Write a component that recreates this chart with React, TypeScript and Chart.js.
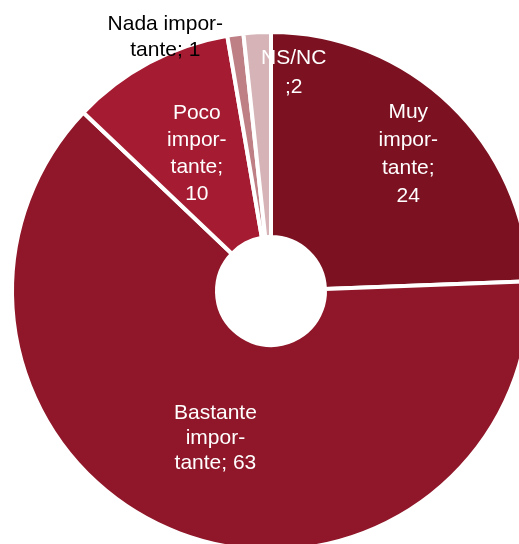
import React, { useEffect, useRef } from "react";
import { Chart, registerables } from "chart.js";

Chart.register(...registerables);

const categories = ["Muy importante", "Bastante importante", "Poco importante", "Nada importante", "NS/NC"];
const values = [24.4, 62.7, 10.2, 1.0, 1.7];
const colors = ["#7C1121", "#8F1729", "#A51B32", "#BE7F85", "#D5B3B6"];
// how each label is broken into lines; {v} is replaced by the rounded value
const labelLines = [
  ["Muy", "impor-", "tante;", "{v}"],
  ["Bastante", "impor-", "tante; {v}"],
  ["Poco", "impor-", "tante;", "{v}"],
  ["Nada impor-", "tante; {v}"],
  ["NS/NC", ";{v}"],
];
const labelColors = ["#ffffff", "#ffffff", "#ffffff", "#000000", "#ffffff"];
// placement relative to each arc: fraction of outer radius along mid angle + pixel nudge
const labelRadius = [0.75, 0.607, 0.6, 1.0, 0.85];
const labelNudgeX = [2.5, 0, -1, -70, 34.5];
const labelNudgeY = [3, 0, 0, 3, 1.5];
const labelLineHeight = [27.9, 25.3, 27, 25.6, 29];

const labelPlugin = {
  id: "sliceLabels",
  afterDatasetsDraw(chart: any) {
    const meta = chart.getDatasetMeta(0);
    const ctx = chart.ctx;
    ctx.save();
    ctx.font = '21px "Liberation Sans", Arial, sans-serif';
    ctx.textAlign = "center";
    ctx.textBaseline = "middle";
    meta.data.forEach((arc: any, i: number) => {
      const p = arc.getProps(["x", "y", "startAngle", "endAngle", "outerRadius"], true);
      const mid = (p.startAngle + p.endAngle) / 2;
      const r = p.outerRadius * labelRadius[i];
      const cx = p.x + Math.cos(mid) * r + labelNudgeX[i];
      const cy = p.y + Math.sin(mid) * r + labelNudgeY[i];
      const lines = labelLines[i].map((s) => s.replace("{v}", String(Math.round(values[i]))));
      const lh = labelLineHeight[i];
      ctx.fillStyle = labelColors[i];
      lines.forEach((line, j) => {
        ctx.fillText(line, cx, cy + (j - (lines.length - 1) / 2) * lh);
      });
    });
    ctx.restore();
  },
};

export default function App() {
  const canvasRef = useRef<HTMLCanvasElement | null>(null);

  useEffect(() => {
    if (!canvasRef.current) return;
    const chart = new Chart(canvasRef.current, {
      type: "doughnut",
      data: {
        labels: categories,
        datasets: [
          {
            data: values,
            backgroundColor: colors,
            borderColor: "#ffffff",
            borderWidth: 4,
          },
        ],
      },
      options: {
        animation: false,
        responsive: true,
        maintainAspectRatio: false,
        radius: 259,
        cutout: "20.85%",
        layout: { padding: 0 },
        plugins: {
          legend: { display: false },
          tooltip: { enabled: false },
        },
      },
      plugins: [labelPlugin],
    });
    return () => chart.destroy();
  }, []);

  return (
    <div
      style={{
        position: "fixed",
        left: 0,
        top: 0,
        width: 519,
        height: 544,
        overflow: "hidden",
        background: "#ffffff",
      }}
    >
      <div style={{ position: "absolute", left: -29, top: -9, width: 600, height: 600 }}>
        <canvas ref={canvasRef} />
      </div>
    </div>
  );
}
